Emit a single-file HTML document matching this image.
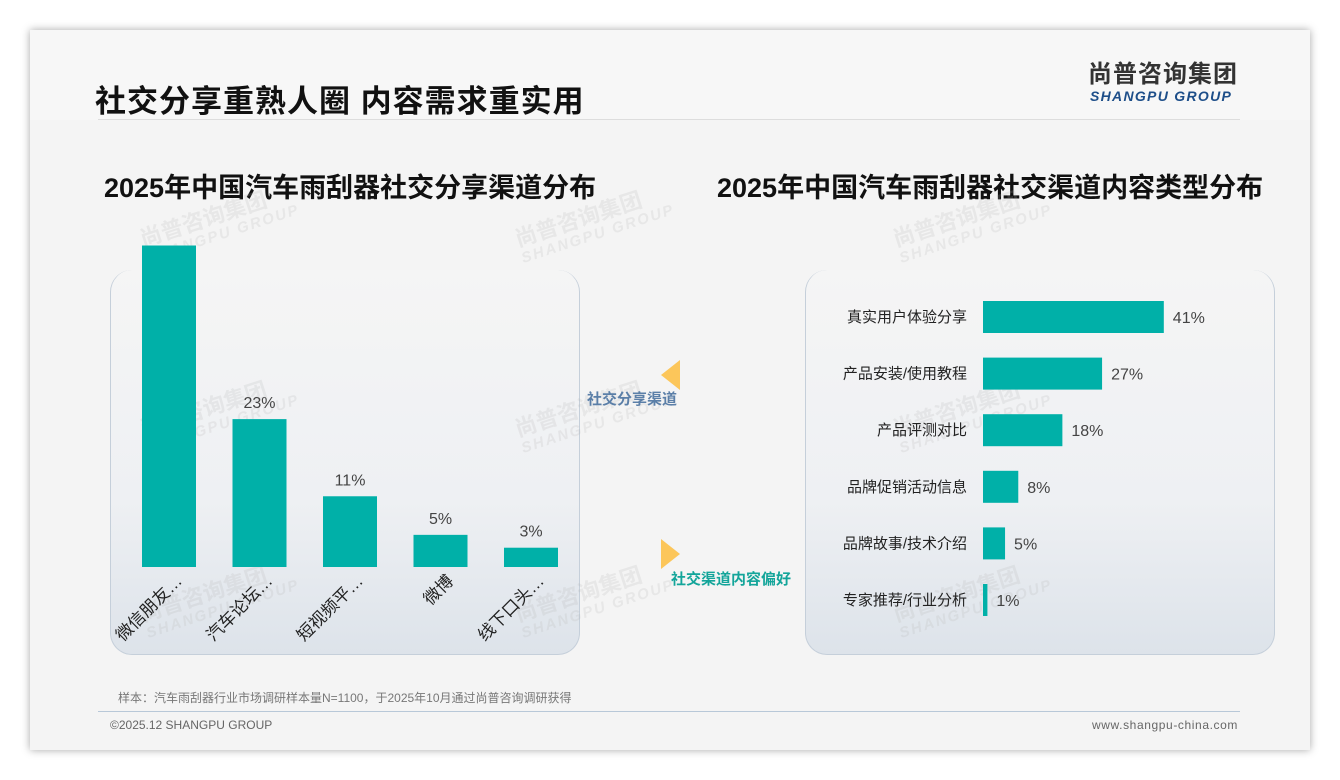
<!DOCTYPE html>
<html><head><meta charset="utf-8">
<style>
body{margin:0;width:1340px;height:780px;background:#fff;font-family:"Liberation Sans","Noto Sans CJK SC",sans-serif;position:relative;overflow:hidden}
.slide{position:absolute;left:30px;top:30px;width:1280px;height:720px;background:#f4f4f4;box-shadow:0 0 8px rgba(0,0,0,.35)}
.abs{position:absolute}
.panel{position:absolute;top:270px;height:384px;width:468px;border-radius:22px;background:linear-gradient(#f5f5f5 0%,#eef0f3 60%,#dde3ea 100%);border:1px solid #c5cfda;border-top:none}
.wm{position:absolute;color:rgba(180,180,180,.2);font-weight:bold;transform:rotate(-18deg);font-size:22px;line-height:20px}
.wm span{display:block;font-size:15px;letter-spacing:2px;font-style:italic}
</style></head><body>
<div class="slide">
  <div class="abs" style="left:0;top:0;width:1280px;height:90px;background:#f7f7f7"></div>
  <div class="abs" style="left:65px;top:46px;font-size:31px;font-weight:bold;color:#111;letter-spacing:1px">社交分享重熟人圈 内容需求重实用</div>
  <div class="abs" style="left:1058px;top:28px;font-size:24px;font-weight:bold;color:#333;letter-spacing:1px;line-height:34px">尚普咨询集团</div>
  <div class="abs" style="left:1060px;top:58px;font-size:14px;font-weight:bold;font-style:italic;color:#1d4e89;letter-spacing:1.3px;line-height:16px">SHANGPU GROUP</div>
  <div class="abs" style="left:68px;top:89px;width:1142px;height:1px;background:#ddd"></div>
  <div class="abs" style="left:74px;top:136px;font-size:27px;font-weight:bold;color:#111">2025年中国汽车雨刮器社交分享渠道分布</div>
  <div class="abs" style="left:687px;top:136px;font-size:27px;font-weight:bold;color:#111">2025年中国汽车雨刮器社交渠道内容类型分布</div>
  <div class="abs" style="left:88px;top:659px;font-size:12px;color:#777">样本：汽车雨刮器行业市场调研样本量N=1100，于2025年10月通过尚普咨询调研获得</div>
  <div class="abs" style="left:68px;top:681px;width:1142px;height:1px;background:#b8c8d8"></div>
  <div class="abs" style="left:80px;top:688px;font-size:12px;color:#666">©2025.12 SHANGPU GROUP</div>
  <div class="abs" style="left:1062px;top:688px;font-size:12px;color:#666;letter-spacing:0.6px">www.shangpu-china.com</div>
</div>
<div class="panel" style="left:110px"></div>
<div class="panel" style="left:805px"></div>
<div class="wm" style="left:140px;top:205px">尚普咨询集团<span>SHANGPU GROUP</span></div>
<div class="wm" style="left:515px;top:205px">尚普咨询集团<span>SHANGPU GROUP</span></div>
<div class="wm" style="left:893px;top:205px">尚普咨询集团<span>SHANGPU GROUP</span></div>
<div class="wm" style="left:140px;top:395px">尚普咨询集团<span>SHANGPU GROUP</span></div>
<div class="wm" style="left:515px;top:395px">尚普咨询集团<span>SHANGPU GROUP</span></div>
<div class="wm" style="left:893px;top:395px">尚普咨询集团<span>SHANGPU GROUP</span></div>
<div class="wm" style="left:140px;top:580px">尚普咨询集团<span>SHANGPU GROUP</span></div>
<div class="wm" style="left:515px;top:580px">尚普咨询集团<span>SHANGPU GROUP</span></div>
<div class="wm" style="left:893px;top:580px">尚普咨询集团<span>SHANGPU GROUP</span></div>
<svg class="abs" style="left:0;top:0" width="1340" height="780">
  <polygon points="680,360 680,390 661,375" fill="#fcc65a"/>
  <polygon points="661,539 661,569 680,554" fill="#fcc65a"/>
  <text x="587" y="404" font-size="15" font-weight="bold" fill="#5b7fa8">社交分享渠道</text>
  <text x="671" y="584" font-size="15" font-weight="bold" fill="#13a59a">社交渠道内容偏好</text>
  <g id="left"></g><g id="right"></g>
</svg>
<script>
const leftCats=["微信朋友…","汽车论坛…","短视频平…","微博","线下口头…"];
const leftVals=[50,23,11,5,3];
const rightCats=["真实用户体验分享","产品安装/使用教程","产品评测对比","品牌促销活动信息","品牌故事/技术介绍","专家推荐/行业分析"];
const rightVals=[41,27,18,8,5,1];
const NS="http://www.w3.org/2000/svg";
function mk(t,a,p){const e=document.createElementNS(NS,t);for(const k in a)e.setAttribute(k,a[k]);p.appendChild(e);return e;}
const L=document.getElementById('left'),R=document.getElementById('right');
const base=567,yScale=v=>base-v*6.43,xL=i=>169+i*90.5;
leftCats.forEach((c,i)=>{
  const v=leftVals[i];
  const r=mk('rect',{x:xL(i)-27,y:yScale(v),width:54,height:base-yScale(v),fill:'#00b0a8'},L);
  
  
  if(yScale(v)-8>270){const t=mk('text',{x:xL(i),y:yScale(v)-11,'font-size':16,fill:'#444','text-anchor':'middle'},L);t.textContent=v+'%';
  
  }
  const l=mk('text',{x:xL(i)+14,y:582,'font-size':17,fill:'#222','text-anchor':'end',transform:`rotate(-45 ${xL(i)+14} 582)`},L);l.textContent=c;
  
  
});
const x0=983,xS=v=>v*4.41,yR=i=>317+i*56.6;
rightCats.forEach((c,i)=>{
  const v=rightVals[i];
  const r=mk('rect',{x:x0,y:yR(i)-16,width:xS(v),height:32,fill:'#00b0a8'},R);
  
  
  const t=mk('text',{x:x0+xS(v)+9,y:yR(i)+6,'font-size':16,fill:'#444'},R);t.textContent=v+'%';
  
  
  const l=mk('text',{x:967,y:yR(i)+5,'font-size':15,fill:'#222','text-anchor':'end'},R);l.textContent=c;
  
  
});
</script>
</body></html>
